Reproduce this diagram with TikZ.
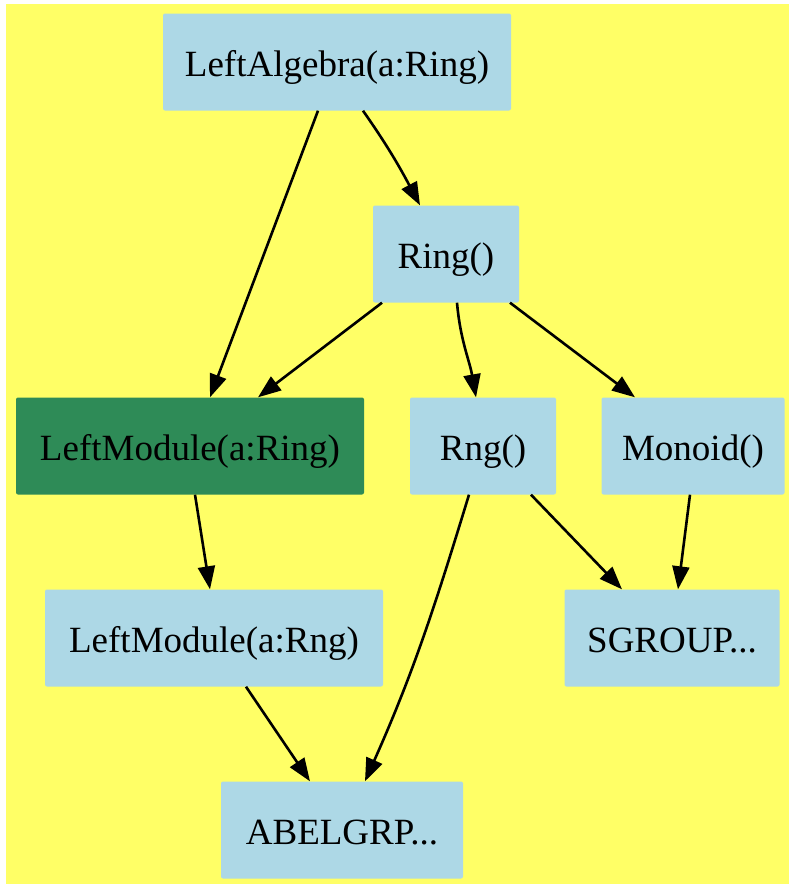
\documentclass[tikz,border=0pt]{standalone}
\usepackage{fontspec}
\setmainfont{Liberation Serif}
\usetikzlibrary{arrows.meta}
\definecolor{bgyellow}{HTML}{FFFF66}
\definecolor{boxblue}{HTML}{ADD8E6}
\definecolor{boxgreen}{HTML}{2E8B57}
\tikzset{
  cat/.style={fill=boxblue,rounded corners=2pt,inner sep=0pt,minimum height=97pt,
    text height=30pt,text depth=2pt,font=\fontsize{37}{44}\selectfont},
  arr/.style={line width=2.6pt,-{Triangle[length=23pt,width=17pt]}}
}
\begin{document}
\begin{tikzpicture}[x=1pt,y=-1pt]
        \useasboundingbox (0,0) rectangle (789,884);
        \fill [color=bgyellow] (6,4) rectangle (789,884);
        % categories
        \node [cat,minimum width=348pt] (la) at (337,62) {LeftAlgebra(a:Ring)};
        \node [cat,minimum width=146pt] (ring) at (446,254) {Ring()};
        \node [cat,minimum width=348pt,fill=boxgreen] (lmring) at (190,446) {LeftModule(a:Ring)};
        \node [cat,minimum width=146pt] (rng) at (483,446) {Rng()};
        \node [cat,minimum width=183pt] (mon) at (693,446) {Monoid()};
        \node [cat,minimum width=338pt] (lmrng) at (214,638) {LeftModule(a:Rng)};
        \node [cat,minimum width=215pt] (sg) at (672,638) {SGROUP...};
        \node [cat,minimum width=242pt] (ab) at (342,830) {ABELGRP...};
        % edges
        \draw [arr] ([xshift=26pt]la.south) to[out=-55,in=118] ([xshift=-26pt]ring.north);
        \draw [arr] ([xshift=-19pt]la.south) -- ([xshift=20pt]lmring.north);
        \draw [arr] ([xshift=-64pt]ring.south) -- ([xshift=68pt]lmring.north);
        \draw [arr] ([xshift=11pt]ring.south) to[out=-85,in=100] ([xshift=-7pt]rng.north);
        \draw [arr] ([xshift=64pt]ring.south) -- ([xshift=-58pt]mon.north);
        \draw [arr] ([xshift=5pt]lmring.south) -- ([xshift=-4pt]lmrng.north);
        \draw [arr] ([xshift=48pt]rng.south) -- ([xshift=-50pt]sg.north);
        \draw [arr] ([xshift=-3pt]mon.south) -- ([xshift=6pt]sg.north);
        \draw [arr] ([xshift=32pt]lmrng.south) -- ([xshift=-32pt]ab.north);
        \draw [arr] ([xshift=-14pt]rng.south) to[out=-107,in=66] ([xshift=23pt]ab.north);
\end{tikzpicture}
\end{document}
